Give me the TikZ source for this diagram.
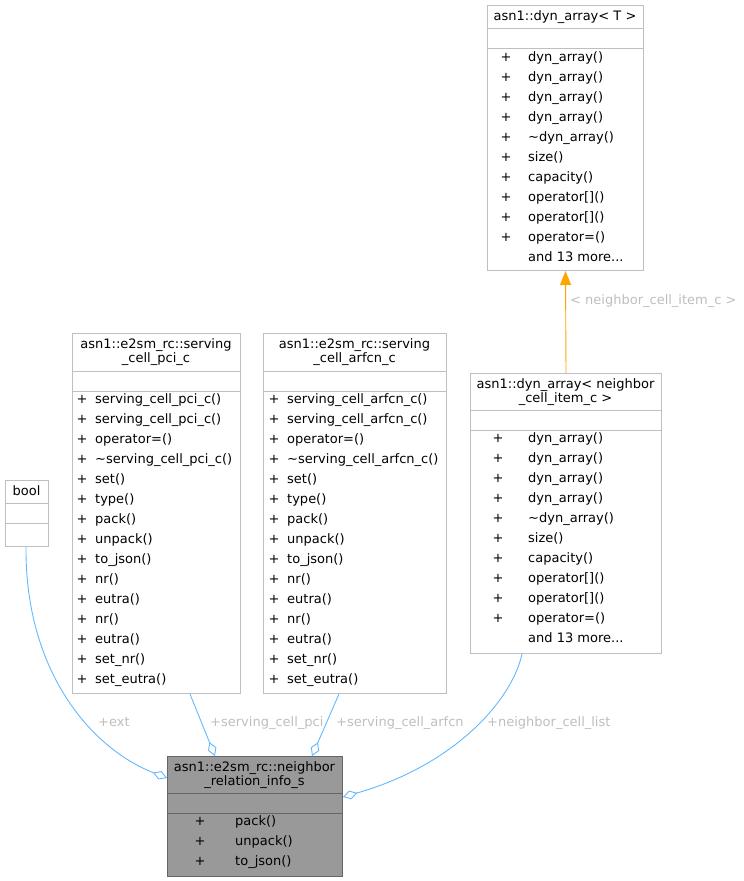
\documentclass[tikz,border=0pt]{standalone}
\usepackage{fontspec}
\setmainfont{DejaVu Sans}
\usetikzlibrary{arrows.meta,calc}

\definecolor{edgeblue}{HTML}{63B8FF}
\definecolor{lblgrey}{HTML}{BEBEBE}
\definecolor{boxgrey}{HTML}{BFBFBF}
\definecolor{mainfill}{HTML}{999999}
\definecolor{mainline}{HTML}{666666}
\definecolor{tmplorange}{HTML}{FFA500}

\begin{document}
\begin{tikzpicture}[x=1bp,y=-1bp,
  font=\fontsize{13bp}{15bp}\selectfont,
  txt/.style={inner sep=0pt, text height=9.5bp, text depth=2.5bp},
  cls/.style={draw=boxgrey, line width=1bp, fill=white, inner sep=0pt, anchor=north west},
  mcls/.style={draw=mainline, line width=1bp, fill=mainfill, inner sep=0pt, anchor=north west},
  sepline/.style={draw=boxgrey, line width=1bp},
  msepline/.style={draw=mainline, line width=1bp},
  uses/.style={draw=edgeblue, line width=0.9bp, -{Diamond[open, length=15bp, width=9bp, line width=0.9bp]}},
  inst/.style={draw=tmplorange, line width=0.9bp, -{Triangle[length=14bp, width=11bp]}},
  elabel/.style={txt, text=lblgrey, anchor=west}]

\useasboundingbox (0,0) rectangle (744,881);

% ---------- asn1::dyn_array< T >
\node[cls, minimum width=156bp, minimum height=265bp] (tmpl) at (487,5) {};
\draw[sepline] ($(tmpl.north west)+(0,23)$) -- ($(tmpl.north east)+(0,23)$);
\draw[sepline] ($(tmpl.north west)+(0,43)$) -- ($(tmpl.north east)+(0,43)$);
\node[txt] (tmpltitle) at (565,17) {asn1::dyn\_array< T >};
\foreach \t [count=\i from 0] in {dyn\_array(),dyn\_array(),dyn\_array(),dyn\_array(),
  \textasciitilde dyn\_array(),size(),capacity(),operator[](),operator[](),operator=()} {
  \node[txt] at (506,{58+20*\i}) {+};
  \node[txt, anchor=west] at (528,{58+20*\i}) {\t};
}
\node[txt, anchor=west] at (528,258) {and 13 more...};

% ---------- bool
\node[cls, minimum width=43bp, minimum height=66bp] (bool) at (5,480) {};
\draw[sepline] ($(bool.north west)+(0,23)$) -- ($(bool.north east)+(0,23)$);
\draw[sepline] ($(bool.north west)+(0,43)$) -- ($(bool.north east)+(0,43)$);
\node[txt] (booltitle) at (26.5,492) {bool};

% ---------- asn1::e2sm_rc::serving_cell_pci_c
\node[cls, minimum width=168bp, minimum height=360bp] (pci) at (72,333) {};
\draw[sepline] ($(pci.north west)+(0,38)$) -- ($(pci.north east)+(0,38)$);
\draw[sepline] ($(pci.north west)+(0,58)$) -- ($(pci.north east)+(0,58)$);
\node[txt] (pcititle1) at (156,345) {asn1::e2sm\_rc::serving};
\node[txt] (pcititle2) at (156,359) {\_cell\_pci\_c};
\foreach \t [count=\i from 0] in {serving\_cell\_pci\_c(),serving\_cell\_pci\_c(),operator=(),
  \textasciitilde serving\_cell\_pci\_c(),set(),type(),pack(),unpack(),to\_json(),
  nr(),eutra(),nr(),eutra(),set\_nr(),set\_eutra()} {
  \node[txt] at (82,{400+20*\i}) {+};
  \node[txt, anchor=west] at (95,{400+20*\i}) {\t};
}

% ---------- asn1::e2sm_rc::serving_cell_arfcn_c
\node[cls, minimum width=183bp, minimum height=360bp] (arfcn) at (263,333) {};
\draw[sepline] ($(arfcn.north west)+(0,38)$) -- ($(arfcn.north east)+(0,38)$);
\draw[sepline] ($(arfcn.north west)+(0,58)$) -- ($(arfcn.north east)+(0,58)$);
\node[txt] (arfcntitle1) at (354.5,345) {asn1::e2sm\_rc::serving};
\node[txt] (arfcntitle2) at (354.5,359) {\_cell\_arfcn\_c};
\foreach \t [count=\i from 0] in {serving\_cell\_arfcn\_c(),serving\_cell\_arfcn\_c(),operator=(),
  \textasciitilde serving\_cell\_arfcn\_c(),set(),type(),pack(),unpack(),to\_json(),
  nr(),eutra(),nr(),eutra(),set\_nr(),set\_eutra()} {
  \node[txt] at (274,{400+20*\i}) {+};
  \node[txt, anchor=west] at (287,{400+20*\i}) {\t};
}

% ---------- asn1::dyn_array< neighbor_cell_item_c >
\node[cls, minimum width=191bp, minimum height=280bp] (nbr) at (470,373) {};
\draw[sepline] ($(nbr.north west)+(0,37)$) -- ($(nbr.north east)+(0,37)$);
\draw[sepline] ($(nbr.north west)+(0,57)$) -- ($(nbr.north east)+(0,57)$);
\node[txt] (nbrtitle1) at (565.5,385) {asn1::dyn\_array< neighbor};
\node[txt] (nbrtitle2) at (565.5,399) {\_cell\_item\_c >};
\foreach \t [count=\i from 0] in {dyn\_array(),dyn\_array(),dyn\_array(),dyn\_array(),
  \textasciitilde dyn\_array(),size(),capacity(),operator[](),operator[](),operator=()} {
  \node[txt] at (498,{439+20*\i}) {+};
  \node[txt, anchor=west] at (528,{439+20*\i}) {\t};
}
\node[txt, anchor=west] at (528,639) {and 13 more...};

% ---------- asn1::e2sm_rc::neighbor_relation_info_s
\node[mcls, minimum width=175bp, minimum height=120bp] (main) at (167,756) {};
\draw[msepline] ($(main.north west)+(0,37)$) -- ($(main.north east)+(0,37)$);
\draw[msepline] ($(main.north west)+(0,57)$) -- ($(main.north east)+(0,57)$);
\node[txt] (maintitle1) at (254.5,768) {asn1::e2sm\_rc::neighbor};
\node[txt] (maintitle2) at (254.5,782) {\_relation\_info\_s};
\foreach \t [count=\i from 0] in {pack(),unpack(),to\_json()} {
  \node[txt] at (200,{822+20*\i}) {+};
  \node[txt, anchor=west] at (235,{822+20*\i}) {\t};
}

% ---------- template instantiation
\draw[inst] (nbr.north) -- (tmpl.south);
\node[elabel] (instlbl) at (570,301) {< neighbor\_cell\_item\_c >};

% ---------- member relations
\draw[uses] ($(bool.south)+(-1,0)$) .. controls (25,670) and (90,748) .. ($(main.north west)+(0,22)$);
\draw[uses] ($(pci.south west)+(118,0)$) -- ($(main.north west)+(48,0)$);
\draw[uses] ($(arfcn.south west)+(76,0)$) -- ($(main.north west)+(145,0)$);
\draw[uses] ($(nbr.south west)+(52,0)$) .. controls (512,700) and (455,765) .. ($(main.north east)+(0,41)$);

\node[elabel] (lblext) at (98,723) {+ext};
\node[elabel] (lblpci) at (210,723) {+serving\_cell\_pci};
\node[elabel] (lblarfcn) at (336,723) {+serving\_cell\_arfcn};
\node[elabel] (lblnbr) at (487,723) {+neighbor\_cell\_list};

\end{tikzpicture}
\end{document}
